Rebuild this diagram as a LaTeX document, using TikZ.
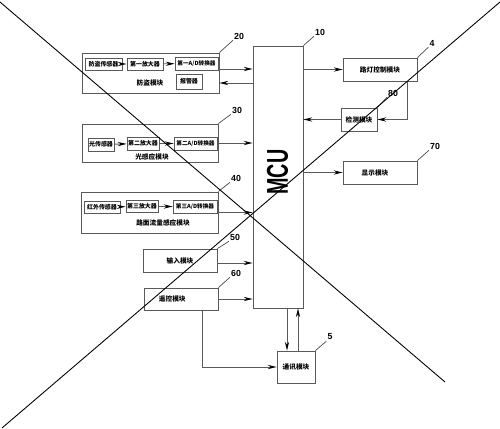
\documentclass[tikz,border=0pt]{standalone}
\usepackage{fontspec}
\usepackage{graphicx}
\newfontfamily\cjk{Noto Sans CJK SC}
\newfontfamily\arial{Liberation Sans}
\usetikzlibrary{arrows.meta}

\begin{document}
\begin{tikzpicture}[x=0.02cm, y=-0.02cm,
  blk/.style={draw=black!65, line width=0.5pt, inner sep=0pt, font=\cjk\bfseries\fontsize{3.4}{4}\selectfont},
  lbl/.style={inner sep=0pt, font=\cjk\bfseries\fontsize{3.8}{4}\selectfont},
  num/.style={inner sep=0.5pt, font=\arial\bfseries\fontsize{5}{6}\selectfont},
  arr/.style={draw=black!65, line width=0.5pt, -{Stealth[length=5pt, width=2.4pt, color=black]}},
  lead/.style={draw=black!70, line width=0.4pt}]
\useasboundingbox (0,0) rectangle (500,429);
% MCU
\node[blk, minimum width=1cm, minimum height=5.24cm] (mcu) at (278,177) {};
\node[rotate=90, inner sep=0pt, font=\arial\bfseries] (mcutxt) at (277.5,172)
  {\resizebox{0.9cm}{0.42cm}{MCU}};
% module 20
\node[blk, minimum width=2.74cm, minimum height=0.8cm] (m20) at (150.5,73) {};
\node[blk, minimum width=0.74cm, minimum height=0.24cm] (s1) at (103.5,64) {防盗传感器};
\node[blk, minimum width=0.72cm, minimum height=0.24cm] (a1) at (145,64) {第一放大器};
\node[blk, minimum width=0.86cm, minimum height=0.26cm, font=\cjk\bfseries\fontsize{3.2}{4}\selectfont] (d1) at (196.5,63.5) {第一A/D转换器};
\node[blk, minimum width=0.52cm, minimum height=0.3cm] (alarm) at (189,81.5) {报警器};
\node[lbl] (l20) at (150,83) {防盗模块};
\draw[arr] (s1) -- (a1);
\draw[arr] (a1) -- (d1);
% module 30
\node[blk, minimum width=2.72cm, minimum height=0.76cm] (m30) at (150,143) {};
\node[blk, minimum width=0.52cm, minimum height=0.26cm] (s2) at (101,144.5) {光传感器};
\node[blk, minimum width=0.64cm, minimum height=0.26cm] (a2) at (143,143.5) {第二放大器};
\node[blk, minimum width=0.86cm, minimum height=0.26cm, font=\cjk\bfseries\fontsize{3.2}{4}\selectfont] (d2) at (195.5,143.5) {第二A/D转换器};
\node[lbl] (l30) at (152,157) {光感应模块};
\draw[arr] (s2) -- (a2);
\draw[arr] (a2) -- (d2);
% module 40
\node[blk, minimum width=2.74cm, minimum height=0.82cm] (m40) at (149.5,212.5) {};
\node[blk, minimum width=0.72cm, minimum height=0.24cm] (s3) at (102,207) {红外传感器};
\node[blk, minimum width=0.64cm, minimum height=0.24cm] (a3) at (142,206.5) {第三放大器};
\node[blk, minimum width=0.88cm, minimum height=0.26cm, font=\cjk\bfseries\fontsize{3.2}{4}\selectfont] (d3) at (195,206.5) {第三A/D转换器};
\node[lbl] (l40) at (163,223) {路面流量感应模块};
\draw[arr] (s3) -- (a3);
\draw[arr] (a3) -- (d3);
% left blocks
\node[blk, minimum width=1.48cm, minimum height=0.46cm, font=\cjk\bfseries\fontsize{3.8}{4}\selectfont] (inp) at (180,260.5) {输入模块};
\node[blk, minimum width=1.48cm, minimum height=0.44cm, font=\cjk\bfseries\fontsize{3.8}{4}\selectfont] (rc) at (181,299) {\hspace*{-0.35cm}遥控模块};
\node[blk, minimum width=0.76cm, minimum height=0.64cm, font=\cjk\bfseries\fontsize{3.8}{4}\selectfont] (comm) at (296,367) {通讯模块};
% right blocks
\node[blk, minimum width=1.48cm, minimum height=0.46cm, font=\cjk\bfseries\fontsize{3.8}{4}\selectfont] (lamp) at (380,69.5) {路灯控制模块};
\node[blk, minimum width=0.72cm, minimum height=0.46cm, font=\cjk\bfseries\fontsize{3.8}{4}\selectfont] (det) at (359,119.5) {检测模块};
\node[blk, minimum width=1.48cm, minimum height=0.46cm, font=\cjk\bfseries\fontsize{3.8}{4}\selectfont] (disp) at (380,172.5) {\hspace*{-0.2cm}显示模块};
% connections to the MCU
\draw[arr] ([yshift=0.08cm]m20.east) coordinate (p20) -- (p20 -| mcu.west);
\draw[arr] ([yshift=-0.2cm]m20.east -| mcu.west) coordinate (q20) -- (q20 -| m20.east);
\draw[arr] (m30.east) -- (m30.east -| mcu.west);
\draw[arr] (m40.east) -- (m40.east -| mcu.west);
\draw[arr] ([yshift=-0.05cm]inp.east) coordinate (pin) -- (pin -| mcu.west);
\draw[arr] (rc.east) -- (rc.east -| mcu.west);
\draw[arr] (lamp.west -| mcu.east) -- (lamp.west);
\draw[arr] (det.west) -- (det.west -| mcu.east);
\draw[arr] (disp.west -| mcu.east) -- (disp.west);
\draw[arr] ([xshift=0.54cm]lamp.south) |- (det.east);
\draw[arr] ([xshift=0.42cm]rc.south) |- (comm.west);
\coordinate (cdn) at ([xshift=-0.18cm]comm.north);
\coordinate (cup) at ([xshift=0.04cm]comm.north);
\draw[arr] (cdn |- mcu.south) -- (cdn);
\draw[arr] (cup) -- (cup |- mcu.south);
% reference numbers
\node[num] (n10) at (320,32) {10};
\node[num] (n20) at (239,36) {20};
\node[num] (n30) at (237,110) {30};
\node[num] (n40) at (236,178) {40};
\node[num] (n50) at (235,237) {50};
\node[num] (n60) at (236,273) {60};
\node[num] (n5) at (330,337) {5};
\node[num] (n4) at (432,43) {4};
\node[num] (n80) at (393,93) {80};
\node[num] (n70) at (435,146) {70};
\draw[lead] (mcu.north east) -- (n10.south west);
\draw[lead] (m20.north east) -- (n20.south west);
\draw[lead] (m30.north east) -- (n30.south west);
\draw[lead] (m40.north east) -- (n40.south west);
\draw[lead] (inp.north east) -- (n50.south west);
\draw[lead] (rc.north east) -- (n60.south west);
\draw[lead] (comm.north east) -- (n5.south west);
\draw[lead] (lamp.north east) -- (n4.south west);
\draw[lead] (det.north east) -- (n80.south west);
\draw[lead] (disp.north east) -- (n70.south west);
% crossing lines
\draw[line width=0.5pt] (0,2) -- (445,382);
\draw[line width=0.5pt] (500,2) -- (2,428);
\end{tikzpicture}
\end{document}
